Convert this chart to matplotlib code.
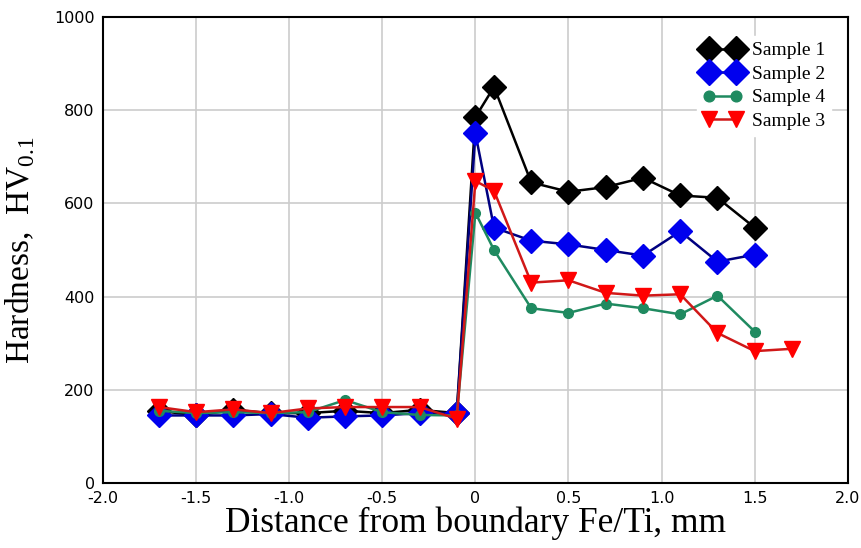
import matplotlib.pyplot as plt

plt.rcParams["mathtext.fontset"] = "custom"
plt.rcParams["mathtext.rm"] = "Liberation Serif"

x = [-1.7, -1.5, -1.3, -1.1, -0.9, -0.7, -0.5, -0.3, -0.1,
     0.0, 0.1, 0.3, 0.5, 0.7, 0.9, 1.1, 1.3, 1.5]
x3 = x + [1.7]

sample1 = [155, 145, 157, 150, 150, 155, 150, 157, 150,
           785, 850, 645, 625, 635, 655, 617, 612, 548]
sample2 = [145, 145, 145, 148, 140, 143, 145, 150, 150,
           750, 548, 520, 512, 500, 488, 540, 475, 490]
sample4 = [155, 150, 152, 150, 152, 178, 152, 146, 145,
           580, 500, 375, 365, 385, 375, 362, 402, 325]
sample3 = [163, 152, 158, 150, 160, 163, 163, 163, 138,
           648, 627, 430, 435, 408, 402, 405, 322, 283, 288]

fig = plt.figure(figsize=(8.62, 5.48), dpi=100)
ax = fig.add_axes([0.1195, 0.1186, 0.864, 0.8504])

ax.plot(x, sample1, color="black", lw=1.8, marker="D", ms=12,
        mfc="black", mec="black", label="Sample 1", zorder=3)
ax.plot(x, sample2, color="#000080", lw=1.8, marker="D", ms=12,
        mfc="#0000ee", mec="#0000ee", label="Sample 2", zorder=4)
ax.plot(x, sample4, color="#1f8a60", lw=1.8, marker="o", ms=7,
        mfc="#1f8a60", mec="#1f8a60", label="Sample 4", zorder=5)
ax.plot(x3, sample3, color="#d01818", lw=1.8, marker="v", ms=11,
        mfc="#ff0000", mec="#ff0000", label="Sample 3", zorder=6)

ax.set_xlim(-2.0, 2.0)
ax.set_ylim(0, 1000)
ax.set_xticks([-2.0, -1.5, -1.0, -0.5, 0, 0.5, 1.0, 1.5, 2.0])
ax.set_xticklabels(["-2.0", "-1.5", "-1.0", "-0.5", "0", "0.5", "1.0", "1.5", "2.0"])
ax.set_yticks([0, 200, 400, 600, 800, 1000])
ax.tick_params(length=0, labelsize=11.5, pad=6)
ax.grid(color="#cccccc", lw=1.2)
ax.set_axisbelow(True)
for s in ax.spines.values():
    s.set_linewidth(1.5)

ax.set_xlabel("Distance from boundary Fe/Ti, mm", family="Liberation Serif",
              fontsize=25.5, labelpad=0)
ax.set_ylabel(r"Hardness,  HV$_{0.1}$", family="Liberation Serif",
              fontsize=24, labelpad=12)

leg = ax.legend(loc="upper right", numpoints=2, frameon=True, fancybox=False,
                edgecolor="white", framealpha=1, handlelength=2.0,
                handletextpad=0.5, labelspacing=0.3, borderpad=0.3,
                markerscale=1.1,
                prop={"family": "Liberation Serif", "size": 14},
                bbox_to_anchor=(0.99, 0.98))

fig.savefig("out.png", dpi=100)
plt.close(fig)
